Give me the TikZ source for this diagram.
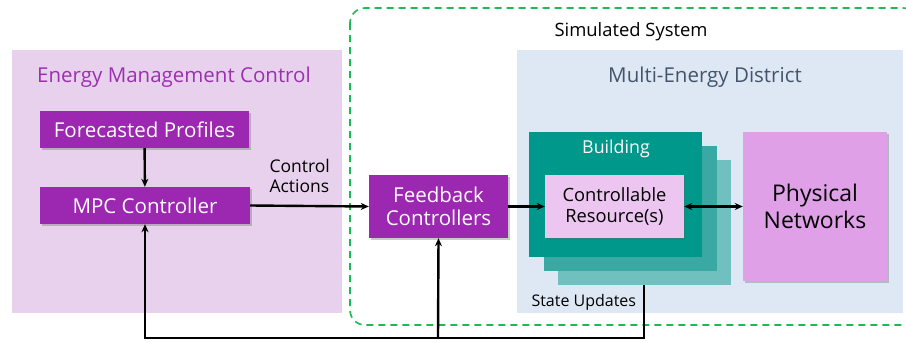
\documentclass[tikz,border=0pt]{standalone}
\usepackage{fontspec}
\setmainfont{Open Sans}
\usetikzlibrary{shadows,arrows.meta}
\definecolor{panelpink}{HTML}{E8D1EC}
\definecolor{panelblue}{HTML}{DEE8F4}
\definecolor{ctrlpurple}{HTML}{9C27B0}
\definecolor{titlepurple}{HTML}{9B30B0}
\definecolor{districtgray}{HTML}{44546A}
\definecolor{bldA}{HTML}{00988A}
\definecolor{bldB}{HTML}{3AA9A3}
\definecolor{bldC}{HTML}{70C0C0}
\definecolor{resourcepink}{HTML}{ECC6F0}
\definecolor{netpink}{HTML}{E0A0E8}
\definecolor{simgreen}{HTML}{1DB954}
\newcommand{\fs}[1]{\fontsize{#1}{1.15\dimexpr#1pt\relax}\selectfont}
\tikzset{
  blk/.style={draw=none, inner sep=0pt, align=center,
    drop shadow={shadow xshift=2pt, shadow yshift=-2pt, opacity=0.35, fill=black!60}},
  purplebox/.style={blk, fill=ctrlpurple, text=white},
  arr/.tip={Stealth[length=8pt,width=7pt]},
  flow/.style={line width=2.4pt, -arr},
}
\begin{document}
\begin{tikzpicture}[x=1pt,y=-1pt]
\useasboundingbox (0,0) rectangle (906,343);
% background panels
\fill[panelpink] (12,50) rectangle (342,313);
\fill[panelblue] (517,50) rectangle (903,313);
\draw[simgreen, line width=1.6pt, dash pattern=on 7pt off 5pt, rounded corners=15pt]
  (350,8) rectangle (918,325);
\node[font=\fs{18.4}] (simlabel) at (631,32) {Simulated System};
\node[text=titlepurple, font=\fs{20.5}] (emclabel) at (174,77) {Energy Management Control};
\node[text=districtgray, font=\fs{20.5}] (distlabel) at (705,77) {Multi-Energy District};
% energy management control blocks
\node[purplebox, minimum width=209pt, minimum height=37pt, font=\fs{20.5}] (fore) at (144.5,129.5) {Forecasted Profiles};
\node[purplebox, minimum width=210pt, minimum height=37pt, font=\fs{20.5}] (mpc) at (145,205.5) {MPC Controller};
\node[align=left, anchor=west, font=\fs{17.5}] (calabel) at (266,176) {Control\\Actions};
\node[purplebox, minimum width=139pt, minimum height=63pt, font=\fs{20.5}] (fbc) at (438.5,206.5) {Feedback\\Controllers};
% building stack
\fill[bldC] (558,160) rectangle (731,285);
\fill[bldB] (544,146) rectangle (717,271);
\node[fill=bldA, minimum width=173pt, minimum height=125pt, inner sep=0pt] (bld) at (615.5,194.5) {};
\node[text=white, font=\fs{17.8}] (bldlabel) at (616,149) {Building};
\node[blk, fill=resourcepink, minimum width=139pt, minimum height=63pt, font=\fs{18.3}] (res) at (614.5,206.5) {Controllable\\Resource(s)};
\node[blk, fill=netpink, minimum width=144pt, minimum height=149pt, font=\fs{23}] (net) at (815,206.5) {Physical\\Networks};
\node[anchor=west, font=\fs{16}] (sulabel) at (528,302) {State Updates};
% connectors
\coordinate (fbout) at (644,285);
\coordinate (c1) at (644,338);
\coordinate (c2) at (145,338);
\coordinate (c3) at (438,338);
\draw[flow] (fore) -- (mpc);
\draw[flow] (mpc.east) -- (fbc.west);
\draw[flow] (fbc.east) -- (res.west);
\draw[line width=2.4pt, arr-arr] (res.east) -- (net.west);
\draw[flow, line join=miter] (fbout) -- (c1) -- (c2) -- (mpc.south);
\draw[flow] (c3) -- (fbc.south);
\end{tikzpicture}
\end{document}
